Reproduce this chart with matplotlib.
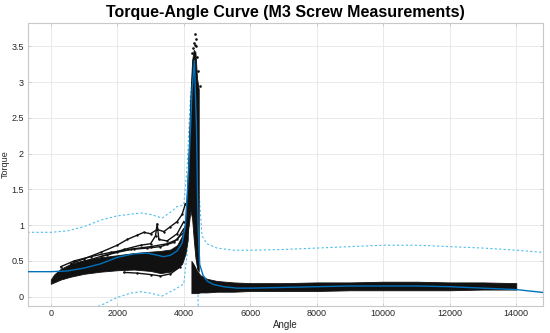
import matplotlib
matplotlib.use("Agg")
import matplotlib.pyplot as plt

plt.rcParams['font.family'] = ['Liberation Sans', 'DejaVu Sans']

# ---- data ----
# dense pre-failure measurement cloud (envelope)
pre_x = [0, 100, 300, 600, 1000, 1500, 2000, 2500, 3000, 3300, 3600, 3800, 3950, 4050, 4120]
pre_upper = [0.24, 0.31, 0.39, 0.46, 0.51, 0.55, 0.58, 0.61, 0.63, 0.64, 0.66, 0.72, 0.85, 1.05, 1.30]
pre_lower = [0.18, 0.20, 0.24, 0.28, 0.32, 0.35, 0.37, 0.38, 0.36, 0.33, 0.35, 0.40, 0.46, 0.60, 0.80]

# sparse upper measurement traces
trace_a_x = [600, 1000, 1500, 2000, 2300, 2600, 2800, 3000, 3200, 3400, 3600, 3800, 3950, 4050]
trace_a_y = [0.46, 0.53, 0.62, 0.72, 0.80, 0.86, 0.90, 0.88, 0.94, 0.91, 0.98, 1.05, 1.15, 1.30]
trace_b_x = [800, 1200, 1700, 2200, 2700, 3000, 3150, 3200, 3250, 3500, 3800, 4000]
trace_b_y = [0.47, 0.52, 0.59, 0.66, 0.72, 0.74, 0.85, 1.02, 0.80, 0.78, 0.88, 1.05]
trace_c_x = [1500, 2000, 2500, 3000, 3500, 3800, 4000]
trace_c_y = [0.56, 0.62, 0.67, 0.70, 0.74, 0.80, 0.95]
trace_d_x = [300, 700, 1200, 1800, 2400, 2900, 3300, 3700, 4000]
trace_d_y = [0.42, 0.50, 0.56, 0.62, 0.66, 0.68, 0.70, 0.76, 0.90]
trace_e_x = [2200, 2600, 3000, 3300, 3600, 3900]
trace_e_y = [0.34, 0.33, 0.31, 0.29, 0.32, 0.42]

# peak spike region (envelope)
spike_x = [4050, 4100, 4150, 4200, 4250, 4300, 4350, 4400, 4450]
spike_upper = [1.10, 1.50, 2.10, 2.80, 3.30, 3.45, 3.42, 3.05, 2.90]
spike_lower = [0.70, 0.85, 1.00, 1.20, 1.10, 0.80, 0.55, 0.40, 0.35]

# isolated points near the top of the spike
top_x = [4330, 4360, 4300, 4380, 4270, 4340, 4400, 4480, 4250, 4420]
top_y = [3.67, 3.60, 3.55, 3.50, 3.48, 3.52, 3.35, 2.94, 3.40, 3.15]

# post-failure cloud (envelope)
post_x = [4230, 4300, 4400, 4500, 4700, 5000, 5500, 6000, 7000, 8000, 9000, 10000, 11000, 12000, 13000, 14000]
post_upper = [0.50, 0.45, 0.36, 0.30, 0.25, 0.22, 0.20, 0.19, 0.19, 0.20, 0.20, 0.21, 0.21, 0.20, 0.20, 0.19]
post_lower = [0.05, 0.05, 0.05, 0.06, 0.06, 0.07, 0.07, 0.08, 0.08, 0.08, 0.09, 0.09, 0.09, 0.09, 0.10, 0.10]

# fitted curve
fit_x = [-700, 0, 500, 1000, 1500, 2000, 2500, 2900, 3200, 3400, 3600, 3800, 3950, 4050, 4150, 4250,
         4320, 4380, 4430, 4480, 4580, 4700, 4900, 5200, 5600, 6000, 7000, 8000, 9000, 10000, 11000,
         12000, 13000, 14000, 14800]
fit_y = [0.35, 0.35, 0.36, 0.40, 0.46, 0.55, 0.60, 0.61, 0.58, 0.56, 0.58, 0.64, 0.75, 1.00, 1.80, 2.90,
         3.30, 2.40, 1.00, 0.45, 0.30, 0.22, 0.17, 0.14, 0.12, 0.12, 0.13, 0.14, 0.15, 0.15, 0.15,
         0.14, 0.12, 0.10, 0.06]

# confidence bounds
ub_x = [-700, 0, 500, 1000, 1500, 2000, 2700, 3000, 3350, 3600, 3800, 4000, 4100, 4200, 4300, 4400,
        4450, 4550, 4700, 5000, 5500, 6000, 7000, 8000, 9000, 10000, 11000, 12000, 13000, 14000, 14800]
ub_y = [0.90, 0.90, 0.92, 0.98, 1.07, 1.13, 1.17, 1.15, 1.10, 1.18, 1.26, 1.28, 1.80, 2.80, 3.30, 2.80,
        1.50, 0.85, 0.74, 0.68, 0.65, 0.65, 0.66, 0.68, 0.70, 0.72, 0.72, 0.70, 0.68, 0.65, 0.62]
lb_x = [1300, 1600, 2000, 2400, 2700, 3000, 3350, 3600, 3800, 4000, 4100, 4200, 4300, 4380, 4420, 4450, 4500]
lb_y = [-0.16, -0.10, -0.01, 0.05, 0.07, 0.05, 0.01, 0.07, 0.12, 0.18, 0.60, 1.50, 2.50, 2.00, 0.20, -0.50, -0.60]

x_ticks = [0, 2000, 4000, 6000, 8000, 10000, 12000, 14000]
y_ticks = [0, 0.5, 1, 1.5, 2, 2.5, 3, 3.5]
y_tick_labels = ['0', '0.5', '1', '1.5', '2', '2.5', '3', '3.5']

# ---- figure ----
fig = plt.figure(figsize=(5.5, 3.33), dpi=100)
ax = fig.add_axes([0.05, 0.081, 0.937, 0.851])

blk = '#111111'
bound_c = '#4DBEEE'
ax.plot(ub_x, ub_y, color=bound_c, lw=0.8, ls=(0, (2, 2)), zorder=1.5)
ax.plot(lb_x, lb_y, color=bound_c, lw=0.8, ls=(0, (2, 2)), zorder=1.5)

ax.fill_between(pre_x, pre_lower, pre_upper, color=blk, lw=0.6, edgecolor=blk, zorder=2)
ax.fill_between(spike_x, spike_lower, spike_upper, color=blk, lw=0.6, edgecolor=blk, zorder=2)
ax.fill_between(post_x, post_lower, post_upper, color=blk, lw=0.6, edgecolor=blk, zorder=2)
for tx, ty in [(trace_a_x, trace_a_y), (trace_b_x, trace_b_y), (trace_c_x, trace_c_y),
               (trace_d_x, trace_d_y), (trace_e_x, trace_e_y)]:
    ax.plot(tx, ty, color=blk, lw=1.0, marker='.', ms=1.5, zorder=2)
ax.plot(top_x, top_y, ls='none', marker='.', ms=1.8, color=blk, zorder=2)

ax.plot(fit_x, fit_y, color='#0072BD', lw=1.0, zorder=3)

ax.set_xlim(-700, 14800)
ax.set_ylim(-0.13, 3.83)
ax.set_xticks(x_ticks)
ax.set_xticklabels([str(v) for v in x_ticks])
ax.set_yticks(y_ticks)
ax.set_yticklabels(y_tick_labels)
ax.grid(True, color='#e6e6e6', lw=0.6)
ax.set_axisbelow(True)
for s in ax.spines.values():
    s.set_color('#c8c8c8')
    s.set_linewidth(0.8)
ax.tick_params(direction='in', length=2.5, width=0.6, color='#c8c8c8', labelsize=6.5,
               labelcolor='#262626', top=True, right=True, pad=2.5)
ax.set_xlabel('Angle', fontsize=7, color='#262626', labelpad=1)
ax.set_ylabel('Torque', fontsize=6.5, color='#262626', labelpad=1)
ax.set_title('Torque-Angle Curve (M3 Screw Measurements)', fontsize=11.5, fontweight='bold', pad=4)

fig.savefig('out.png', dpi=100)
